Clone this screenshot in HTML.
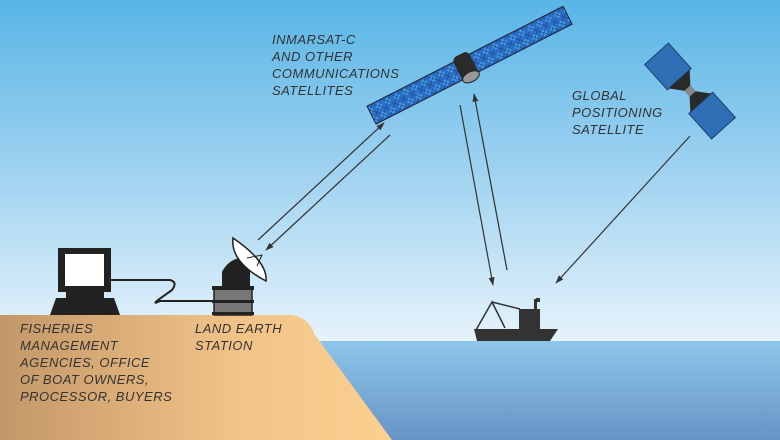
<!DOCTYPE html>
<html><head><meta charset="utf-8"><style>
body{margin:0;width:780px;height:440px;overflow:hidden}
svg{display:block}
text{font-family:"Liberation Sans",sans-serif;font-style:italic;font-size:13px;fill:#333;letter-spacing:0.5px}
</style></head><body>
<svg width="780" height="440" viewBox="0 0 780 440">
<defs>
<linearGradient id="sky" x1="0" y1="0" x2="0" y2="1"><stop offset="0" stop-color="#58b5e6"/><stop offset="0.5" stop-color="#9fd2f0"/><stop offset="1" stop-color="#e6f3fb"/></linearGradient>
<linearGradient id="sea" x1="0" y1="0" x2="0" y2="1"><stop offset="0" stop-color="#8ec6ea"/><stop offset="1" stop-color="#6794c6"/></linearGradient>
<linearGradient id="land" x1="0" y1="0" x2="1" y2="0"><stop offset="0" stop-color="#c39768"/><stop offset="0.6" stop-color="#f2c388"/><stop offset="1" stop-color="#fbd090"/></linearGradient>
<pattern id="pan" width="10" height="10" patternUnits="userSpaceOnUse"><rect width="10" height="10" fill="#2d6fc4"/><circle cx="5" cy="5" r="3" fill="#4aa3ef"/><path d="M0 0L10 10M10 0L0 10" stroke="#1e4f9a" stroke-width="0.8"/></pattern>
<marker id="ah" viewBox="0 0 10 10" refX="9" refY="5" markerWidth="10" markerHeight="7" orient="auto"><path d="M0 1.5L10 5L0 8.5z" fill="#333"/></marker>
</defs>
<rect width="780" height="341" fill="url(#sky)"/>
<rect y="341" width="780" height="99" fill="url(#sea)"/>
<path d="M0 315 L290 315 Q308 316 315 335 L392 440 L0 440z" fill="url(#land)"/>
<!-- computer -->
<rect x="58" y="248" width="53" height="44" fill="#222"/>
<rect x="65" y="254" width="39" height="32" fill="#fff"/>
<rect x="66" y="292" width="38" height="6" fill="#222"/>
<path d="M56 298 L114 298 L120 315 L50 315z" fill="#222"/>
<path d="M111 280 L170 280 Q178 282 172 290 L158 300 Q152 305 160 301 L230 301" fill="none" stroke="#222" stroke-width="2"/>
<!-- earth station -->
<rect x="214" y="287" width="38" height="28" fill="#777"/>
<rect x="214" y="287" width="38" height="28" fill="none" stroke="#222" stroke-width="1.5"/>
<rect x="212" y="286" width="42" height="4" fill="#222"/><rect x="212" y="300" width="42" height="3" fill="#222"/><rect x="212" y="312" width="42" height="3" fill="#222"/>
<path d="M222 286 L222 272 Q228 260 240 258 L250 270 L250 286z" fill="#222"/>
<path d="M233 238 Q230 262 266 281 Q268 262 233 238z" fill="#fff" stroke="#222" stroke-width="1.5"/>
<path d="M247 258 L262 255 L257 266" fill="none" stroke="#222"/>
<!-- boat -->
<path d="M474 329 L558 329 L550 341 L477 341z" fill="#333"/>
<rect x="519" y="309" width="21" height="20" fill="#333"/>
<rect x="534" y="299" width="3" height="10" fill="#333"/><rect x="536" y="298" width="4" height="4" fill="#333"/>
<path d="M476 330 L492 302 L505 328 M492 302 L520 309" fill="none" stroke="#333" stroke-width="1.5"/>
<!-- comm satellite -->
<g transform="translate(466,67) rotate(-27)">
<rect x="-106" y="-10" width="220" height="20" fill="url(#pan)" stroke="#223" stroke-width="1"/>
<rect x="-9" y="-14" width="18" height="26" rx="5" fill="#2a2a2a"/>
<ellipse cx="0" cy="11" rx="9" ry="5" fill="#999" stroke="#222"/>
</g>
<!-- GPS satellite -->
<g transform="translate(690,91) rotate(-42)">
<rect x="-16" y="-50" width="32" height="34" fill="#2f6fb5" stroke="#1c3f70"/>
<rect x="-16" y="16" width="32" height="34" fill="#2f6fb5" stroke="#1c3f70"/>
<path d="M-14 -16 L14 -16 L4 -4 L4 4 L14 16 L-14 16 L-4 4 L-4 -4z" fill="#2a2a2a"/>
<rect x="-4" y="-4" width="8" height="8" fill="#888"/>
</g>
<!-- arrows -->
<g stroke="#333" stroke-width="1.2" fill="none" marker-end="url(#ah)">
<line x1="258" y1="240" x2="384" y2="123"/>
<line x1="390" y1="135" x2="266" y2="250"/>
<line x1="460" y1="105" x2="493" y2="285"/>
<line x1="507" y1="270" x2="474" y2="94"/>
<line x1="690" y1="136" x2="556" y2="283"/>
</g>
<text x="272" y="44">INMARSAT-C</text>
<text x="272" y="61">AND OTHER</text>
<text x="272" y="78">COMMUNICATIONS</text>
<text x="272" y="95">SATELLITES</text>
<text x="572" y="100">GLOBAL</text>
<text x="572" y="117">POSITIONING</text>
<text x="572" y="134">SATELLITE</text>
<text x="195" y="333">LAND EARTH</text>
<text x="195" y="350">STATION</text>
<text x="20" y="333">FISHERIES</text>
<text x="20" y="350">MANAGEMENT</text>
<text x="20" y="367">AGENCIES, OFFICE</text>
<text x="20" y="384">OF BOAT OWNERS,</text>
<text x="20" y="401">PROCESSOR, BUYERS</text>
</svg>
</body></html>
